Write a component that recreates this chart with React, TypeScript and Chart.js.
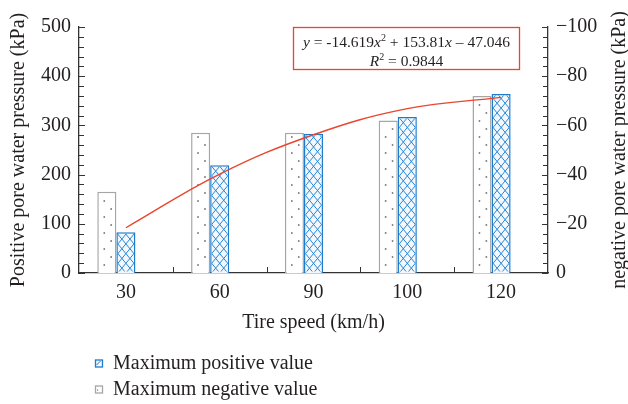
import React, { useEffect, useRef } from 'react';
import { Chart, registerables } from 'chart.js';

Chart.register(...registerables);

// ---- data ----
const speeds = ['30', '60', '90', '100', '120'];
const maxPositive = [83, 219, 283, 317, 364]; // kPa, left axis
const maxNegative = [-33, -57, -57, -62, -72]; // kPa, right axis
const fitCurve = [92, 201, 281, 334, 357]; // trend line read at each speed (left axis)
const leftTickStep = 100;
const rightTickStep = 20;
const leftMinorStep = 20;
const rightMinorStep = 4;
const legendLabels = ['Maximum positive value', 'Maximum negative value'];
const equationParts = [
  { t: 'y', it: true },
  { t: ' = -14.619' },
  { t: 'x', it: true },
  { t: '2', sup: true },
  { t: ' + 153.81' },
  { t: 'x', it: true },
  { t: ' \u2013 47.046' },
];
const rSquaredParts = [{ t: 'R', it: true }, { t: '2', sup: true }, { t: ' = 0.9844' }];

const FONT = "'Liberation Serif', 'Times New Roman', serif";
const TEXT = '#231f20';
const BLUE = '#1f7ccc';
const GREY = '#a6a6a6';
const RED = '#e8462e';
const AXIS = '#333333';

type Part = { t: string; it?: boolean; sup?: boolean };

function drawRich(ctx: CanvasRenderingContext2D, parts: Part[], cx: number, baseline: number, size: number) {
  const fontFor = (p: Part) => `${p.it ? 'italic ' : ''}${p.sup ? Math.round(size * 0.62) : size}px ${FONT}`;
  let total = 0;
  for (const p of parts) {
    ctx.font = fontFor(p);
    total += ctx.measureText(p.t).width;
  }
  let x = cx - total / 2;
  ctx.textAlign = 'left';
  ctx.textBaseline = 'alphabetic';
  for (const p of parts) {
    ctx.font = fontFor(p);
    ctx.fillText(p.t, x, p.sup ? baseline - size * 0.4 : baseline);
    x += ctx.measureText(p.t).width;
  }
}

function drawCross(ctx: CanvasRenderingContext2D, left: number, top: number, w: number, h: number, base: number, cw: number, ch: number) {
  ctx.save();
  ctx.beginPath();
  ctx.rect(left, top, w, h);
  ctx.clip();
  ctx.strokeStyle = '#2a86d4';
  ctx.lineWidth = 1;
  const s = ch / cw;
  const run = h / s;
  const kMin = -Math.ceil(run / cw) - 1;
  const kMax = Math.ceil((w + run) / cw) + 1;
  ctx.beginPath();
  for (let k = kMin; k <= kMax; k++) {
    const x0 = left + k * cw;
    ctx.moveTo(x0, base);
    ctx.lineTo(x0 + run + cw, base - (run + cw) * s);
    ctx.moveTo(x0, base);
    ctx.lineTo(x0 - run - cw, base - (run + cw) * s);
  }
  ctx.stroke();
  ctx.restore();
}

function drawDots(ctx: CanvasRenderingContext2D, left: number, top: number, w: number, h: number, base: number) {
  ctx.save();
  ctx.beginPath();
  ctx.rect(left, top, w, h);
  ctx.clip();
  ctx.fillStyle = '#7d7d7d';
  const cols = [left + w * 0.34, left + w * 0.77];
  for (let c = 0; c < 2; c++) {
    for (let y = base - 8 - c * 8; y > top; y -= 16) {
      ctx.beginPath();
      ctx.arc(cols[c], y, 0.95, 0, Math.PI * 2);
      ctx.fill();
    }
  }
  ctx.restore();
}

const decorPlugin = {
  id: 'decor',
  afterDatasetDraw(chart: any, args: any) {
    const ds = chart.data.datasets[args.index];
    const kind = ds.patternKind;
    if (!kind) return;
    const ctx: CanvasRenderingContext2D = chart.ctx;
    for (const el of args.meta.data) {
      const { x, y, base, width } = el.getProps(['x', 'y', 'base', 'width'], true);
      const top = Math.min(y, base);
      const bottom = Math.max(y, base);
      if (bottom - top < 2) continue;
      const bw = 1.5;
      const l = x - width / 2 + bw;
      const t = top + bw;
      const w = width - 2 * bw;
      const h = bottom - top - 2 * bw;
      if (kind === 'cross') drawCross(ctx, l, t, w, h, bottom, w / 2, 9.7);
      else drawDots(ctx, l, t, w, h, bottom);
    }
  },
  afterDraw(chart: any) {
    const ctx: CanvasRenderingContext2D = chart.ctx;
    const { left, right, top, bottom } = chart.chartArea;
    const { x, y, y2 } = chart.scales;
    ctx.save();
    // inward ticks
    ctx.strokeStyle = AXIS;
    ctx.lineWidth = 1;
    ctx.beginPath();
    for (let v = y.min; v <= y.max + 0.001; v += leftMinorStep) {
      const py = Math.round(y.getPixelForValue(v)) + 0.5;
      const len = v % leftTickStep === 0 ? 6 : 5;
      ctx.moveTo(left, py);
      ctx.lineTo(left + len, py);
    }
    for (let v = y2.min; v <= y2.max + 0.001; v += rightMinorStep) {
      const py = Math.round(y2.getPixelForValue(v)) + 0.5;
      const len = Math.abs(v) % rightTickStep === 0 ? 6 : 5;
      ctx.moveTo(right, py);
      ctx.lineTo(right - len, py);
    }
    for (let i = 1; i < speeds.length; i++) {
      const px = Math.round((x.getPixelForValue(i - 1) + x.getPixelForValue(i)) / 2) + 0.5;
      ctx.moveTo(px, bottom);
      ctx.lineTo(px, bottom - 6);
    }
    ctx.stroke();

    // right axis title (reads bottom to top)
    ctx.fillStyle = TEXT;
    ctx.font = `20px ${FONT}`;
    ctx.save();
    ctx.translate(620, (top + bottom) / 2);
    ctx.rotate(-Math.PI / 2);
    ctx.textAlign = 'center';
    ctx.textBaseline = 'middle';
    ctx.fillText('negative pore water pressure (kPa)', 0, 0);
    ctx.restore();

    // equation box
    const bx = 293.5, by = 27.5, bw = 226, bh = 42;
    ctx.fillStyle = '#ffffff';
    ctx.fillRect(bx, by, bw, bh);
    ctx.strokeStyle = RED;
    ctx.lineWidth = 1.3;
    ctx.strokeRect(bx, by, bw, bh);
    ctx.fillStyle = TEXT;
    drawRich(ctx, equationParts, bx + bw / 2, 47, 15.5);
    drawRich(ctx, rSquaredParts, bx + bw / 2, 66, 15.5);

    // legend
    const items = [
      { label: legendLabels[0], kind: 'cross', y: 363 },
      { label: legendLabels[1], kind: 'dots', y: 389 },
    ];
    for (const it of items) {
      const ix = 95, iy = it.y - 3.5, s = 7;
      ctx.fillStyle = it.kind === 'cross' ? '#f2f8fd' : '#ffffff';
      ctx.fillRect(ix, iy, s, s);
      if (it.kind === 'cross') {
        ctx.strokeStyle = BLUE;
        ctx.lineWidth = 1;
        ctx.beginPath();
        ctx.moveTo(ix + 1.5, iy + s - 1.5);
        ctx.lineTo(ix + s - 1.5, iy + 1.5);
        ctx.stroke();
      } else {
        ctx.fillStyle = '#7d7d7d';
        ctx.fillRect(ix + 2, iy + 4, 1.2, 1.2);
      }
      ctx.strokeStyle = it.kind === 'cross' ? BLUE : GREY;
      ctx.lineWidth = 1.3;
      ctx.strokeRect(ix + 0.5, iy + 0.5, s, s);
      ctx.fillStyle = TEXT;
      ctx.font = `20px ${FONT}`;
      ctx.textAlign = 'left';
      ctx.textBaseline = 'middle';
      ctx.fillText(it.label, 113, it.y + 1);
    }
    ctx.restore();
  },
};

export default function App() {
  const ref = useRef<HTMLCanvasElement | null>(null);
  useEffect(() => {
    if (!ref.current) return;
    const font = { family: FONT, size: 20 };
    const chart = new Chart(ref.current, {
      type: 'bar',
      data: {
        labels: speeds,
        datasets: [
          {
            type: 'line',
            label: 'fit',
            data: fitCurve,
            yAxisID: 'y',
            borderColor: RED,
            borderWidth: 1.4,
            pointRadius: 0,
            tension: 0.4,
            fill: false,
            order: 0,
          } as any,
          {
            type: 'bar',
            label: legendLabels[1],
            data: maxNegative,
            yAxisID: 'y2',
            backgroundColor: '#ffffff',
            borderColor: GREY,
            borderWidth: 1.5,
            order: 1,
            patternKind: 'dots',
          } as any,
          {
            type: 'bar',
            label: legendLabels[0],
            data: maxPositive,
            yAxisID: 'y',
            backgroundColor: '#f2f8fd',
            borderColor: BLUE,
            borderWidth: 1.5,
            order: 1,
            patternKind: 'cross',
          } as any,
          {
            type: 'bar',
            label: '',
            data: [],
            yAxisID: 'y',
            order: 1,
          } as any,
        ],
      },
      options: {
        animation: false,
        responsive: false,
        maintainAspectRatio: false,
        datasets: { bar: { categoryPercentage: 0.61, barPercentage: 1 } },
        layout: { padding: { top: 27, left: 0, right: 0, bottom: 0 } },
        plugins: { legend: { display: false }, tooltip: { enabled: false } },
        scales: {
          x: {
            type: 'category',
            offset: true,
            grid: { display: false, drawTicks: false },
            border: { display: true, color: AXIS, width: 1.3 },
            ticks: { font, color: TEXT, padding: 8 },
            title: { display: true, text: 'Tire speed (km/h)', font, color: TEXT, padding: { top: 0, bottom: 69 } },
            afterFit: (s: any) => { s.height = 131; },
          },
          y: {
            position: 'left',
            min: 0,
            max: 500,
            grid: { display: false, drawTicks: false },
            border: { display: true, color: AXIS, width: 1.3 },
            ticks: { stepSize: leftTickStep, font, color: TEXT, padding: 8 },
            title: { display: true, text: 'Positive pore water pressure (kPa)', font, color: TEXT, padding: { top: 7, bottom: 0 } },
            afterFit: (s: any) => { s.width = 79; },
          },
          y2: {
            position: 'right',
            min: -100,
            max: 0,
            reverse: true,
            grid: { display: false, drawTicks: false },
            border: { display: true, color: AXIS, width: 1.3 },
            ticks: {
              stepSize: rightTickStep,
              font,
              color: TEXT,
              padding: 8,
              callback: (v: any) => (Number(v) === 0 ? '0' : '\u2212' + Math.abs(Number(v))),
            },
            afterFit: (s: any) => { s.width = 80; },
          },
        },
      } as any,
      plugins: [decorPlugin],
    });
    return () => chart.destroy();
  }, []);
  return (
    <div style={{ position: 'fixed', left: 0, top: 0, width: 628, height: 404, background: '#fff' }}>
      <canvas ref={ref} width={628} height={404} style={{ width: 628, height: 404 }} />
    </div>
  );
}
